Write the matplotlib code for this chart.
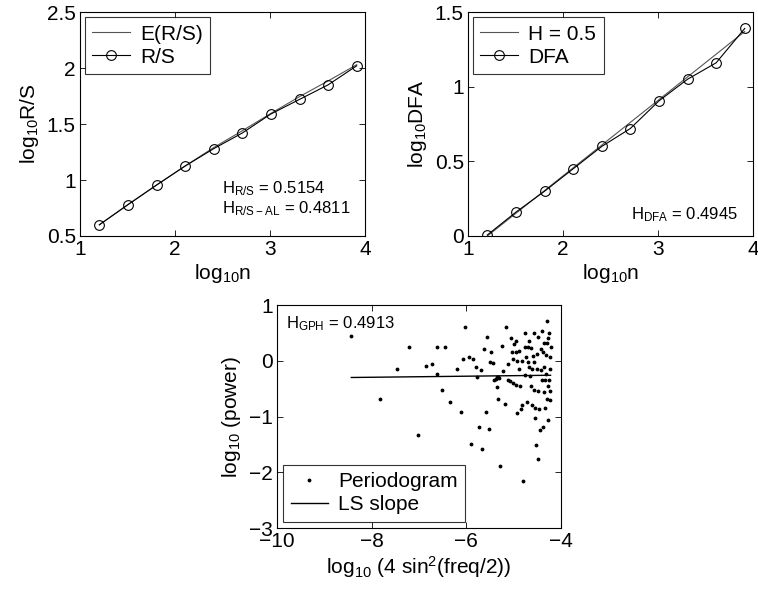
import matplotlib
matplotlib.use("Agg")
import matplotlib.pyplot as plt
import numpy as np

plt.rcParams['font.family'] = ['Liberation Sans', 'DejaVu Sans']
plt.rcParams['mathtext.default'] = 'regular'

# --- R/S panel
log_n = [1.204, 1.505, 1.806, 2.107, 2.408, 2.709, 3.010, 3.311, 3.612, 3.913]
rs = [0.60, 0.78, 0.955, 1.125, 1.28, 1.42, 1.59, 1.72, 1.85, 2.02]
e_rs = [0.60, 0.78, 0.955, 1.125, 1.29, 1.44, 1.595, 1.745, 1.885, 2.03]

# --- DFA panel
dfa = [0.007, 0.16, 0.30, 0.45, 0.60, 0.72, 0.905, 1.05, 1.16, 1.39]
h_line_x = [1.204, 3.913]
h_line_y = [0.0, 1.37]

# --- GPH panel
gph_x = [-8.43, -7.83, -7.47, -7.21, -7.03, -6.86, -6.73, -6.61, -6.61, -6.45,
         -6.52, -6.34, -6.20, -6.12, -6.08, -6.02, -5.95, -5.91, -5.86, -5.80,
         -5.78, -5.74, -5.68, -5.66, -5.62, -5.59, -5.56, -5.52, -5.49, -5.47,
         -5.44, -5.41, -5.38, -5.36, -5.34, -5.32, -5.35, -5.33, -5.28, -5.25,
         -5.22, -5.19, -5.16, -5.13, -5.11, -5.08, -5.06, -5.03, -5.02, -5.01,
         -4.99, -4.96, -4.95, -4.94, -4.93, -4.92, -4.89, -4.88, -4.87, -4.85,
         -4.83, -4.82, -4.80, -4.77, -4.77, -4.75, -4.74, -4.72, -4.70, -4.69,
         -4.68, -4.67, -4.65, -4.64, -4.63, -4.62, -4.61, -4.60, -4.58, -4.57,
         -4.56, -4.55, -4.54, -4.53, -4.51, -4.50, -4.49, -4.48, -4.48, -4.46,
         -4.44, -4.43, -4.42, -4.41, -4.40, -4.39, -4.37, -4.36, -4.36, -4.35,
         -4.34, -4.33, -4.32, -4.31, -4.30, -4.29, -4.29, -4.28, -4.27, -4.27,
         -4.26, -4.25, -4.24, -4.23, -4.23, -4.23, -4.22]
gph_y = [0.44, -0.69, -0.15, 0.24, -1.34, -0.10, -0.05, -0.24, 0.25, 0.25,
         -0.52, -0.74, -0.15, -0.92, 0.03, 0.60, 0.06, -1.49, 0.03, -0.12,
         -0.30, -1.18, -0.16, -1.59, 0.21, -0.92, 0.42, -1.23, -0.03, 0.16,
         -0.04, -0.35, -0.32, -0.30, -0.29, -0.31, -0.47, -0.68, -1.88, 0.27,
         -0.19, -0.78, 0.60, -0.06, -0.34, -0.37, 0.41, 0.15, -0.39, 0.04,
         0.30, 0.36, 0.16, -0.44, -0.94, 0.00, 0.18, -0.14, -0.46, -0.87,
         0.00, -0.79, -2.16, 0.50, -0.26, 0.24, 0.07, -0.74, -0.03, 0.24,
         -0.12, 0.35, -0.28, -0.46, 0.23, -0.80, -0.15, 0.09, -0.53, -0.03,
         0.50, -0.84, -1.02, -1.51, -0.15, 0.13, -0.54, 0.43, -1.76, -0.86,
         -1.24, -0.16, 0.21, -0.34, 0.54, -1.18, 0.16, -0.56, 0.32, -0.12,
         -0.85, -0.34, 0.10, -0.24, -0.69, 0.31, 0.72, 0.40, -1.07, -0.46,
         -0.34, 0.49, -0.55, 0.07, -0.70, -0.15, 0.25]
ls_x = [-8.43, -4.22]
ls_y = [-0.30, -0.26]

fig = plt.figure(figsize=(7.58, 5.94), dpi=100)
ax1 = fig.add_axes([0.1055, 0.6027, 0.376, 0.377])
ax2 = fig.add_axes([0.6174, 0.6027, 0.376, 0.377])
ax3 = fig.add_axes([0.3654, 0.1111, 0.3747, 0.3754])

for ax in (ax1, ax2, ax3):
    ax.tick_params(direction='in', top=True, right=True, labelsize=15, length=4, width=0.6, pad=3)
    for s in ax.spines.values():
        s.set_linewidth(0.8)

legend_kw = dict(fontsize=15, fancybox=False, edgecolor='black', handlelength=1.8,
                 handletextpad=0.5, labelspacing=0.2, borderpad=0.35)

ax1.plot(log_n, e_rs, color='#555555', lw=0.8, label='E(R/S)')
ax1.plot(log_n, rs, color='black', lw=0.8, marker='o', ms=7, mfc='none', mew=0.8, label='R/S')
ax1.set_xlim(1, 4)
ax1.set_ylim(0.5, 2.5)
ax1.set_xticks([1, 2, 3, 4])
ax1.set_yticks([0.5, 1, 1.5, 2, 2.5])
ax1.set_yticklabels(['0.5', '1', '1.5', '2', '2.5'])
ax1.set_xlabel('log$_{10}$n', fontsize=15, labelpad=2)
ax1.set_ylabel('log$_{10}$R/S', fontsize=15, labelpad=4)
ax1.text(2.5, 0.92, 'H$_{R/S}$ = 0.5154', fontsize=12, va='center')
ax1.text(2.5, 0.74, 'H$_{R/S\u2212AL}$ = 0.4811', fontsize=12, va='center')
leg = ax1.legend(loc='upper left', borderaxespad=0.25, **legend_kw)
leg.get_frame().set_linewidth(0.8)

ax2.plot(h_line_x, h_line_y, color='#555555', lw=0.8, label='H = 0.5')
ax2.plot(log_n, dfa, color='black', lw=0.8, marker='o', ms=7, mfc='none', mew=0.8, label='DFA')
ax2.set_xlim(1, 4)
ax2.set_ylim(0, 1.5)
ax2.set_xticks([1, 2, 3, 4])
ax2.set_yticks([0, 0.5, 1, 1.5])
ax2.set_yticklabels(['0', '0.5', '1', '1.5'])
ax2.set_xlabel('log$_{10}$n', fontsize=15, labelpad=2)
ax2.set_ylabel('log$_{10}$DFA', fontsize=15, labelpad=4)
ax2.text(2.72, 0.14, 'H$_{DFA}$ = 0.4945', fontsize=12, va='center')
leg = ax2.legend(loc='upper left', borderaxespad=0.25, **legend_kw)
leg.get_frame().set_linewidth(0.8)

ax3.plot(gph_x, gph_y, linestyle='none', marker='.', ms=3.5, color='black', label='Periodogram')
ax3.plot(ls_x, ls_y, color='black', lw=1.0, label='LS slope')
ax3.set_xlim(-10, -4)
ax3.set_ylim(-3, 1)
ax3.set_xticks([-10, -8, -6, -4])
ax3.set_yticks([-3, -2, -1, 0, 1])
ax3.set_xticklabels(['\u221210', '\u22128', '\u22126', '\u22124'])
ax3.set_yticklabels(['\u22123', '\u22122', '\u22121', '0', '1'])
ax3.set_xlabel('log$_{10}$ (4 sin$^2$(freq/2))', fontsize=15, labelpad=2)
ax3.set_ylabel('log$_{10}$ (power)', fontsize=15, labelpad=4)
ax3.text(-9.8, 0.67, 'H$_{GPH}$ = 0.4913', fontsize=12, va='center')
leg = ax3.legend(loc='lower left', borderaxespad=0.3, **legend_kw)
leg.get_frame().set_linewidth(0.8)

fig.savefig('out.png', dpi=100)
